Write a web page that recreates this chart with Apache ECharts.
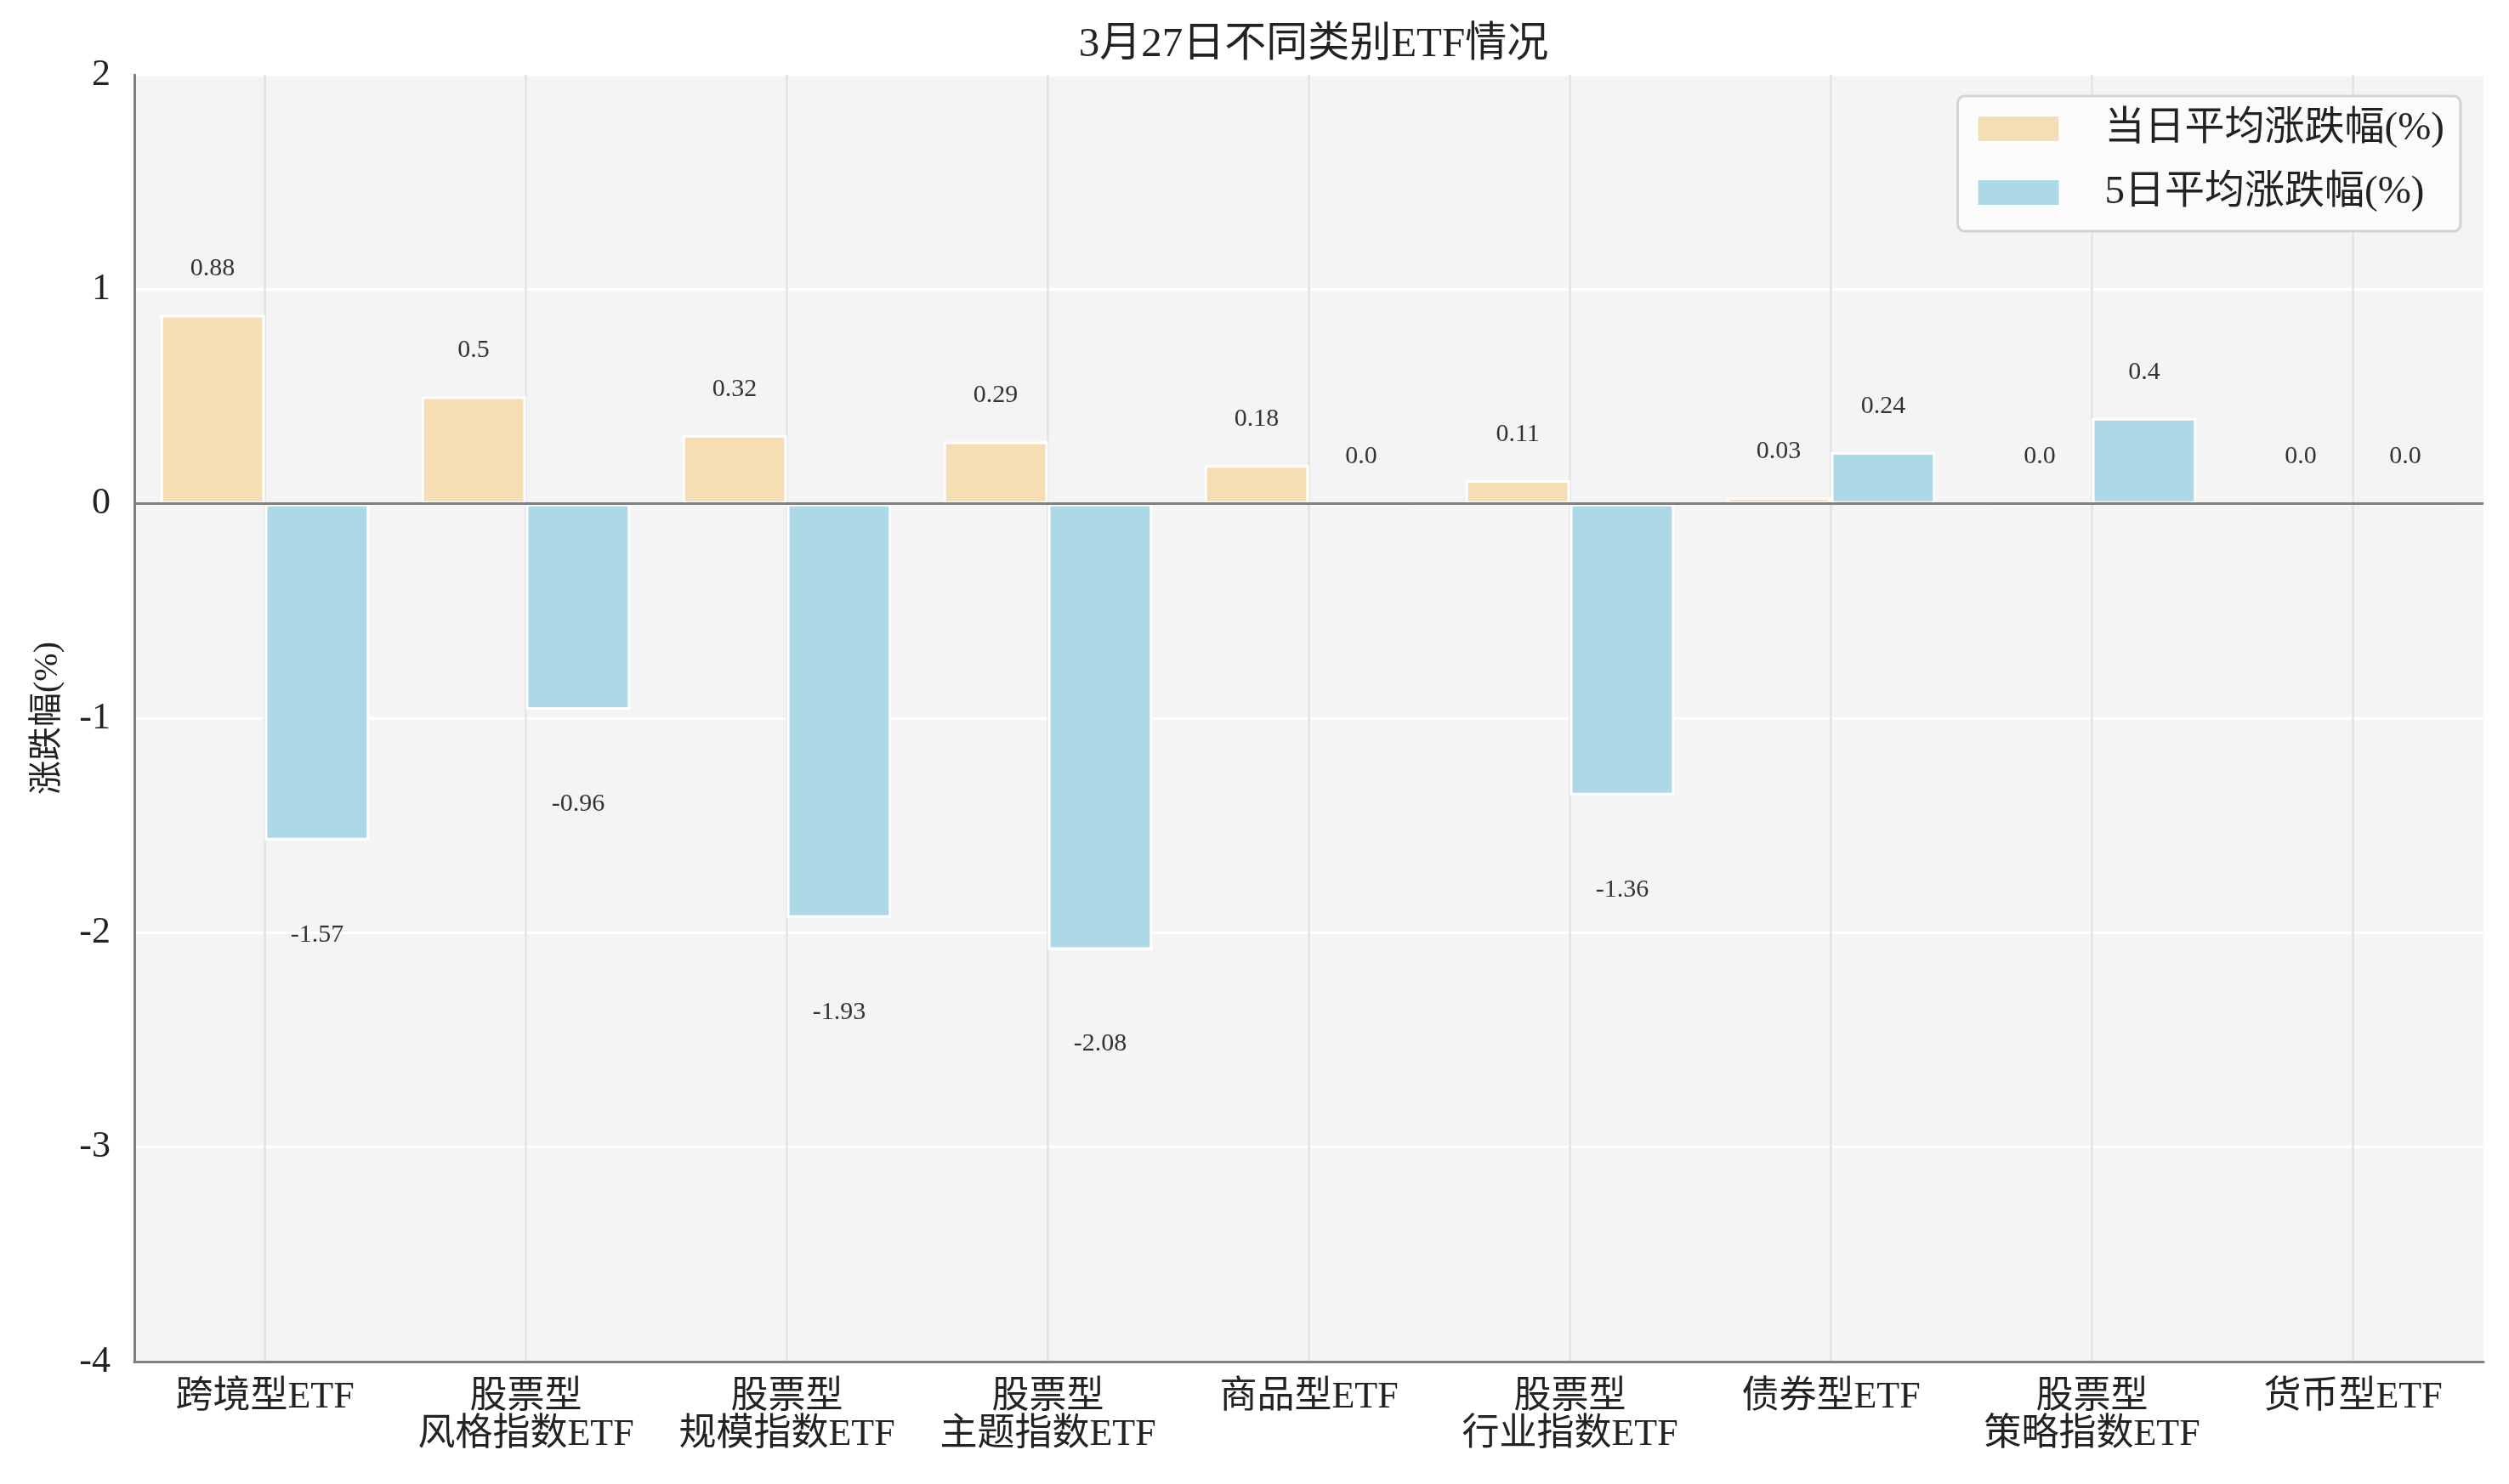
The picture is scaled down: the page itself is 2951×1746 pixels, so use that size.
<!DOCTYPE html>
<html>
<head>
<meta charset="utf-8">
<script src="https://cdn.jsdelivr.net/npm/echarts@6/dist/echarts.min.js"></script>
<style>
    html, body { margin: 0; padding: 0; background: #fff; }
    #main { width: 2951px; height: 1746px; }
</style>
</head>
<body>
<div id="main"></div>
<script type="text/javascript">
    // 数据
    var categories = ['跨境型ETF', '股票型\n风格指数ETF', '股票型\n规模指数ETF', '股票型\n主题指数ETF',
        '商品型ETF', '股票型\n行业指数ETF', '债券型ETF', '股票型\n策略指数ETF', '货币型ETF'];
    var dayChange = [0.88, 0.5, 0.32, 0.29, 0.18, 0.11, 0.03, 0.0, 0.0];
    var fiveDayChange = [-1.57, -0.96, -1.93, -2.08, 0.0, -1.36, 0.24, 0.4, 0.0];
    var yTicks = { min: -4, max: 2, interval: 1 };

    var fontFamily = '"Liberation Serif", "Noto Sans CJK SC", serif';

    function fmt(v) {
        return v === 0 ? '0.0' : String(v);
    }

    function withLabels(arr) {
        return arr.map(function (v) {
            return {
                value: v,
                label: v < 0 ? { position: 'bottom', distance: 96 } : { position: 'top', distance: 39 }
            };
        });
    }

    // 竖向网格线放在类别中心
    var centerSlots = [];
    for (var i = 0; i < categories.length * 2 + 1; i++) centerSlots.push(i);

    var myChart = echarts.init(document.getElementById('main'));

    var barLabel = {
        show: true,
        fontSize: 30,
        color: '#333',
        fontFamily: fontFamily,
        formatter: function (p) { return fmt(p.value); }
    };

    var option = {
        backgroundColor: '#fff',
        title: {
            text: '3月27日不同类别ETF情况',
            left: 1540,
            textAlign: 'center',
            top: 24,
            textStyle: { fontSize: 49, fontWeight: 'normal', color: '#222', fontFamily: fontFamily }
        },
        legend: {
            right: 57,
            top: 113,
            orient: 'vertical',
            itemWidth: 97,
            itemHeight: 31,
            itemGap: 28,
            padding: [15, 19, 22, 22],
            backgroundColor: '#fbfbfb',
            borderColor: '#d3d3d3',
            borderWidth: 3,
            borderRadius: 8,
            icon: 'rect',
            textStyle: { fontSize: 47, color: '#222', fontFamily: fontFamily, padding: [0, 0, 0, 48] },
            data: ['当日平均涨跌幅(%)', '5日平均涨跌幅(%)']
        },
        grid: {
            left: 158, right: 30, top: 88, bottom: 144,
            show: true,
            backgroundColor: '#f4f4f4',
            borderWidth: 0
        },
        xAxis: [{
            type: 'category',
            data: categories,
            axisLine: { onZero: false, lineStyle: { color: '#808080', width: 3 } },
            axisTick: { show: false },
            axisLabel: { fontSize: 44, color: '#222', margin: 20, lineHeight: 44, fontFamily: fontFamily, interval: 0 },
            splitLine: { show: false }
        }, {
            type: 'category',
            position: 'bottom',
            boundaryGap: false,
            data: centerSlots,
            axisLine: { show: false },
            axisTick: { show: false },
            axisLabel: { show: false },
            splitLine: {
                show: true,
                interval: function (idx) { return idx % 2 === 1; },
                lineStyle: { color: '#e6e6e6', width: 3 }
            }
        }],
        yAxis: {
            type: 'value',
            min: yTicks.min,
            max: yTicks.max,
            interval: yTicks.interval,
            name: '涨跌幅(%)',
            nameLocation: 'middle',
            nameGap: 82,
            nameTextStyle: { fontSize: 40, color: '#222', fontFamily: fontFamily },
            axisLine: { show: true, lineStyle: { color: '#808080', width: 3 } },
            axisTick: { show: false },
            axisLabel: { fontSize: 44, color: '#222', margin: 28, fontFamily: fontFamily },
            splitLine: { show: true, lineStyle: { color: '#ffffff', width: 3 } }
        },
        series: [{
            name: '当日平均涨跌幅(%)',
            type: 'bar',
            xAxisIndex: 0,
            data: withLabels(dayChange),
            barGap: '0%',
            barCategoryGap: '20%',
            itemStyle: { color: '#f5deb3', borderColor: '#fff', borderWidth: 3 },
            label: barLabel,
            markLine: {
                silent: true,
                symbol: 'none',
                label: { show: false },
                lineStyle: { color: '#808080', width: 3, type: 'solid' },
                data: [{ yAxis: 0 }]
            }
        }, {
            name: '5日平均涨跌幅(%)',
            type: 'bar',
            xAxisIndex: 0,
            data: withLabels(fiveDayChange),
            barGap: '0%',
            barCategoryGap: '20%',
            itemStyle: { color: '#add8e6', borderColor: '#fff', borderWidth: 3 },
            label: barLabel
        }]
    };

    myChart.setOption(option);
</script>
</body>
</html>
